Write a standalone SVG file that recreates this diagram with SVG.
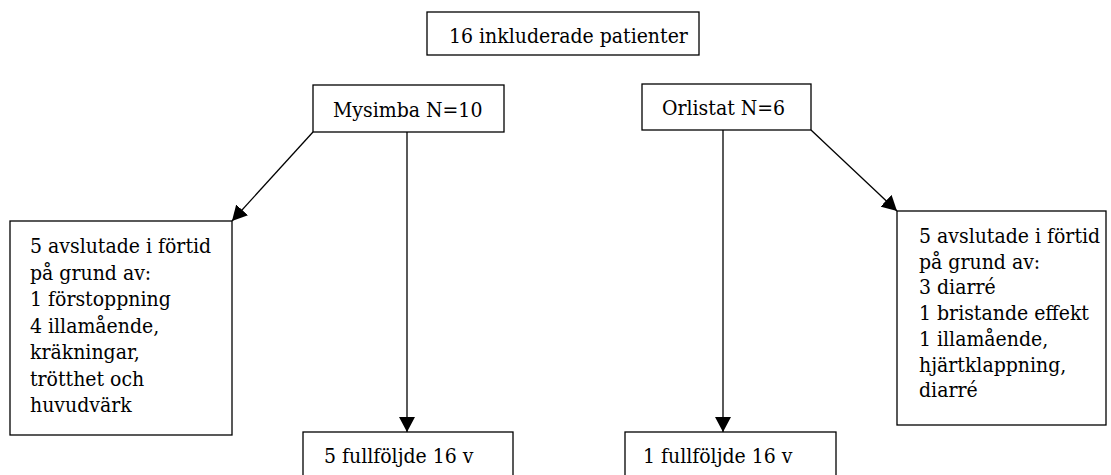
<svg xmlns="http://www.w3.org/2000/svg" width="1111" height="475" viewBox="0 0 1111 475">
<style>
.box{fill:#fff;stroke:#000;stroke-width:1.3}
.c{stroke:#000;stroke-width:1.3;fill:none}
</style>
<defs>
<marker id="ah" markerUnits="userSpaceOnUse" markerWidth="15" markerHeight="16" viewBox="0 0 15 16" refX="15" refY="8" orient="auto">
<path d="M0,0 L15,8 L0,16 Z" fill="#000"/>
</marker>
</defs>
<rect width="1111" height="475" fill="#fff"/>
<g id="connectors">
<line class="c" x1="313" y1="132" x2="232" y2="221" marker-end="url(#ah)"/>
<line class="c" x1="407" y1="132" x2="407" y2="432" marker-end="url(#ah)"/>
<line class="c" x1="723" y1="130" x2="723" y2="432" marker-end="url(#ah)"/>
<line class="c" x1="811" y1="130" x2="897" y2="211" marker-end="url(#ah)"/>
</g>
<g font-family="DejaVu Serif Condensed, DejaVu Serif, serif" font-stretch="condensed" font-size="21" fill="#000">
<g id="n-top">
<rect class="box" x="427" y="12" width="272" height="43"/>
<text x="449" y="43">16 inkluderade patienter</text>
</g>
<g id="n-mysimba">
<rect class="box" x="313" y="85" width="191" height="47"/>
<text x="333" y="117">Mysimba N=10</text>
</g>
<g id="n-orlistat">
<rect class="box" x="642" y="84" width="169" height="46"/>
<text x="662" y="115">Orlistat N=6</text>
</g>
<g id="n-left">
<rect class="box" x="10" y="221" width="222" height="214"/>
<text>
<tspan x="30" y="253">5 avslutade i förtid</tspan>
<tspan x="30" y="279.5">på grund av:</tspan>
<tspan x="30" y="306">1 förstoppning</tspan>
<tspan x="30" y="332.5">4 illamående,</tspan>
<tspan x="30" y="359">kräkningar,</tspan>
<tspan x="30" y="385.5">trötthet och</tspan>
<tspan x="30" y="412">huvudvärk</tspan>
</text>
</g>
<g id="n-right">
<rect class="box" x="897" y="211" width="209" height="214"/>
<text>
<tspan x="919" y="243">5 avslutade i förtid</tspan>
<tspan x="919" y="268.7">på grund av:</tspan>
<tspan x="919" y="294.4">3 diarré</tspan>
<tspan x="919" y="320.1">1 bristande effekt</tspan>
<tspan x="919" y="345.8">1 illamående,</tspan>
<tspan x="919" y="371.5">hjärtklappning,</tspan>
<tspan x="919" y="397.2">diarré</tspan>
</text>
</g>
<g id="n-bl">
<rect class="box" x="303" y="432" width="210" height="60"/>
<text x="324" y="463">5 fullföljde 16 v</text>
</g>
<g id="n-br">
<rect class="box" x="625" y="432" width="211" height="60"/>
<text x="643" y="463">1 fullföljde 16 v</text>
</g>
</g>
</svg>
